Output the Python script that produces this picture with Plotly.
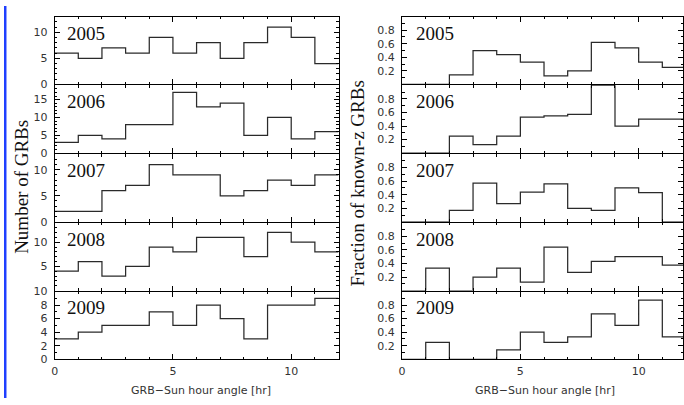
import plotly.graph_objects as go

# ---------------- data ----------------
edges = list(range(13))          # hour-angle bin edges [hr]
years = ["2005", "2006", "2007", "2008", "2009"]

n_2005 = [6, 5, 7, 6, 9, 6, 8, 5, 8, 11, 9, 4]
n_2006 = [3, 5, 4, 8, 8, 17, 13, 14, 5, 10, 4, 6]
n_2007 = [2, 2, 6, 7, 11, 9, 9, 5, 6, 8, 7, 9]
n_2008 = [4, 6, 3, 5, 9, 8, 11, 11, 7, 12, 10, 8]
n_2009 = [3, 4, 5, 5, 7, 5, 8, 6, 3, 8, 8, 9]

f_2005 = [0, 0, 0.14, 0.5, 0.44, 0.33, 0.125, 0.2, 0.62, 0.54, 0.33, 0.25]
f_2006 = [0, 0, 0.25, 0.125, 0.25, 0.53, 0.55, 0.57, 1.0, 0.4, 0.5, 0.5]
f_2007 = [0, 0, 0.17, 0.57, 0.27, 0.44, 0.56, 0.2, 0.17, 0.5, 0.43, 0]
f_2008 = [0, 0.33, 0, 0.2, 0.33, 0.125, 0.64, 0.27, 0.43, 0.5, 0.5, 0.375]
f_2009 = [0, 0.25, 0, 0, 0.14, 0.4, 0.25, 0.33, 0.67, 0.5, 0.875, 0.33]

counts = [n_2005, n_2006, n_2007, n_2008, n_2009]
fracs = [f_2005, f_2006, f_2007, f_2008, f_2009]

count_ymax = [13, 19, 13, 14, 10]
count_ticks = [[0, 5, 10], [0, 5, 10, 15], [0, 5, 10], [0, 5, 10], [0, 2, 4, 6, 8, 10]]
count_ticktext = [["0", "5", "10"], ["0", "5", "10", "15"], ["0", "5", "10"],
                  ["", "5", "10"], ["0", "2", "4", "6", "8", "10"]]
frac_ticks = [0.2, 0.4, 0.6, 0.8]
x_ticks = [0, 5, 10]

# ---------------- layout geometry (pixels) ----------------
W, H = 684, 405
top_px = 11
row_h = 70          # panel height; panels separated by 1px so frame lines coincide
left_x0, left_x1 = 51, 337
right_x0 = 401
px_per_hr = (left_x1 - left_x0) / 12.0
right_xmax = (W - right_x0) / px_per_hr

def px(x):
    return x / W

def py(y):
    return 1 - y / H

LINE = "#2a2a2a"
AX = "black"
TICKFONT = dict(family="DejaVu Sans", size=11, color="#333333")

fig = go.Figure()
layout = dict(
    width=W, height=H,
    margin=dict(l=0, r=0, t=0, b=0),
    paper_bgcolor="white", plot_bgcolor="white",
    showlegend=False,
)

def xaxis_cfg(domain, rng, anchor, show_labels):
    return dict(
        domain=domain, range=rng, anchor=anchor,
        showline=True, linecolor=AX, linewidth=1, mirror="ticks",
        ticks="inside", ticklen=5, tickwidth=1, tickcolor=AX,
        tickvals=x_ticks, showticklabels=show_labels, tickfont=TICKFONT,
        ticklabelstandoff=2,
        minor=dict(dtick=1, tick0=0, ticks="inside", ticklen=2.5, tickcolor=AX, showgrid=False),
        showgrid=False, zeroline=False, fixedrange=True,
    )

def yaxis_cfg(domain, rng, anchor, tickvals, ticktext, minor_dtick):
    return dict(
        domain=domain, range=rng, anchor=anchor,
        showline=True, linecolor=AX, linewidth=1, mirror="ticks",
        ticks="inside", ticklen=5, tickwidth=1, tickcolor=AX,
        tickvals=tickvals, ticktext=ticktext, tickfont=TICKFONT,
        ticklabelstandoff=4,
        minor=dict(dtick=minor_dtick, tick0=0, ticks="inside", ticklen=2.5, tickcolor=AX, showgrid=False),
        showgrid=False, zeroline=False, fixedrange=True,
    )

annotations = []
for i, yr in enumerate(years):
    t = top_px + i * (row_h + 1)
    b = t + row_h
    ydom = [py(b), py(t)]
    bottom_row = (i == len(years) - 1)

    # left column (counts)
    k = 2 * i + 1
    xn, yn = f"x{k}", f"y{k}"
    xa = "xaxis" if k == 1 else f"xaxis{k}"
    ya = "yaxis" if k == 1 else f"yaxis{k}"
    layout[xa] = xaxis_cfg([px(left_x0), px(left_x1)], [0, 12], yn, bottom_row)
    layout[ya] = yaxis_cfg(ydom, [0, count_ymax[i]], xn, count_ticks[i],
                           count_ticktext[i], 1)
    vals = counts[i]
    fig.add_trace(go.Scatter(x=edges, y=vals + [vals[-1]], mode="lines",
                             line=dict(shape="hv", color=LINE, width=1.25),
                             xaxis=xn, yaxis=yn, hoverinfo="skip"))

    # right column (fractions)
    k = 2 * i + 2
    xn, yn = f"x{k}", f"y{k}"
    layout[f"xaxis{k}"] = xaxis_cfg([px(right_x0), 1.0], [0, right_xmax], yn, bottom_row)
    layout[f"yaxis{k}"] = yaxis_cfg(ydom, [0, 1], xn, frac_ticks,
                                    [f"{v:.1f}" for v in frac_ticks], 0.1)
    vals = fracs[i]
    fig.add_trace(go.Scatter(x=edges, y=vals + [vals[-1]], mode="lines",
                             line=dict(shape="hv", color=LINE, width=1.25),
                             xaxis=xn, yaxis=yn, hoverinfo="skip"))

    # year labels
    for x0 in (left_x0 + 10, right_x0 + 12):
        annotations.append(dict(
            text=yr, xref="paper", yref="paper",
            x=px(x0), y=py(t + 17), xanchor="left", yanchor="middle",
            showarrow=False,
            font=dict(family="Liberation Serif", size=19, color="#111111"),
        ))

# axis titles
annotations += [
    dict(text="Number of GRBs", xref="paper", yref="paper",
         x=px(18), y=py(187), textangle=-90, showarrow=False,
         xanchor="center", yanchor="middle",
         font=dict(family="Liberation Serif", size=19, color="#111111")),
    dict(text="Fraction of known-z GRBs", xref="paper", yref="paper",
         x=px(356), y=py(183), textangle=-90, showarrow=False,
         xanchor="center", yanchor="middle",
         font=dict(family="Liberation Serif", size=19, color="#111111")),
    dict(text="GRB\u2212Sun hour angle [hr]", xref="paper", yref="paper",
         x=px(198), y=py(397), showarrow=False, xanchor="center", yanchor="middle",
         font=dict(family="DejaVu Sans", size=11, color="#333333")),
    dict(text="GRB\u2212Sun hour angle [hr]", xref="paper", yref="paper",
         x=px(545), y=py(397), showarrow=False, xanchor="center", yanchor="middle",
         font=dict(family="DejaVu Sans", size=11, color="#333333")),
]
layout["annotations"] = annotations

# blue strip on the left edge of the picture
layout["shapes"] = [dict(type="rect", xref="paper", yref="paper",
                         x0=0, x1=px(2.5), y0=0, y1=1,
                         fillcolor="#1f3fff", line=dict(width=0), layer="above")]

fig.update_layout(**layout)
fig.write_html("out.html")
